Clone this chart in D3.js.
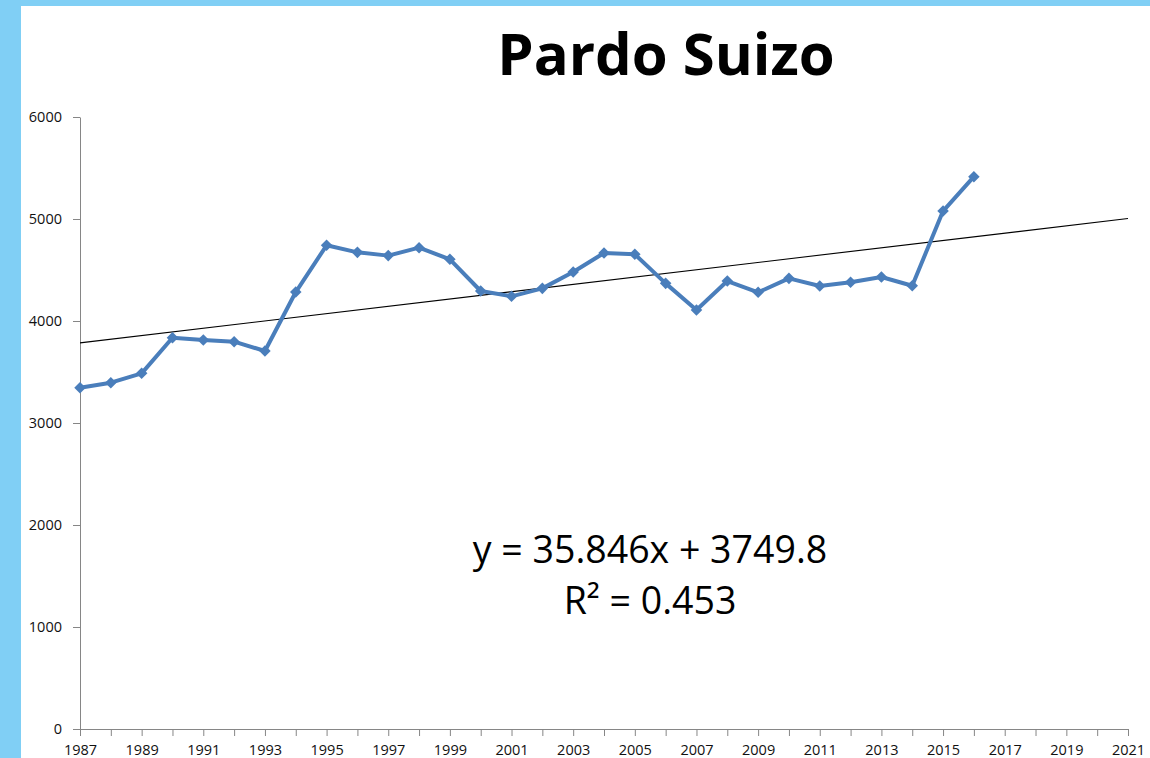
<!DOCTYPE html>
<html>
<head>
<meta charset="utf-8">
<script src="https://cdn.jsdelivr.net/npm/d3@7"></script>
<style>
  body { margin: 0; background: #fff; }
  svg { display: block; }
</style>
</head>
<body>
<svg id="chart" width="1150" height="758"></svg>
<script>
// data
const years = [1987, 1988, 1989, 1990, 1991, 1992, 1993, 1994, 1995, 1996,
  1997, 1998, 1999, 2000, 2001, 2002, 2003, 2004, 2005, 2006,
  2007, 2008, 2009, 2010, 2011, 2012, 2013, 2014, 2015, 2016];
const values = [3345, 3395, 3487, 3836, 3814, 3797, 3706, 4284, 4742, 4673,
  4641, 4719, 4605, 4294, 4242, 4320, 4480, 4667, 4654, 4369,
  4108, 4392, 4281, 4418, 4343, 4379, 4431, 4346, 5078, 5415];
const yTicks = [0, 1000, 2000, 3000, 4000, 5000, 6000];
const xRange = [1987, 2021];
const trendSlope = 35.846;
const trendIntercept = 3749.8;
const eqLines = ["y = 35.846x + 3749.8", "R² = 0.453"];
const title = "Pardo Suizo";

const svg = d3.select("#chart");

// light blue frame strips
svg.append("rect").attr("x", 0).attr("y", 0).attr("width", 1150).attr("height", 6).attr("fill", "#80cff5");
svg.append("rect").attr("x", 0).attr("y", 0).attr("width", 21).attr("height", 758).attr("fill", "#80cff5");

const x = d3.scaleLinear().domain(xRange).range([80, 1128]);
const y = d3.scaleLinear().domain([0, 6000]).range([729, 117]);

const font = "'Open Sans', 'DejaVu Sans', sans-serif";

// y axis
const yAxis = svg.append("g")
  .attr("transform", "translate(80,0)")
  .call(d3.axisLeft(y).tickValues(yTicks).tickSize(7).tickSizeOuter(0).tickPadding(11).tickFormat(d3.format("d")));
yAxis.select(".domain").attr("stroke", "#868686");
yAxis.selectAll(".tick line").attr("stroke", "#868686");
yAxis.selectAll("text").attr("font-family", font).attr("font-size", 14.5).attr("fill", "#111");

// x axis, tick every year, label every other year
const allYears = d3.range(xRange[0], xRange[1] + 1);
const xAxis = svg.append("g")
  .attr("transform", "translate(0,729)")
  .call(d3.axisBottom(x).tickValues(allYears).tickSize(7).tickSizeOuter(0).tickPadding(9)
    .tickFormat(function(d) { return (d - xRange[0]) % 2 === 0 ? String(d) : ""; }));
xAxis.select(".domain").attr("stroke", "#868686");
xAxis.selectAll(".tick line").attr("stroke", "#868686");
xAxis.selectAll("text").attr("font-family", font).attr("font-size", 14.5).attr("fill", "#111");

// linear trend line (x = 1 for first year)
const trendPts = xRange.map(function(yr) {
  return {x: yr, y: trendSlope * (yr - xRange[0] + 1) + trendIntercept};
});
svg.append("line")
  .attr("x1", x(trendPts[0].x)).attr("y1", y(trendPts[0].y))
  .attr("x2", x(trendPts[1].x)).attr("y2", y(trendPts[1].y))
  .attr("stroke", "#000").attr("stroke-width", 1.1);

// series line
const pts = years.map(function(d, i) { return {yr: d, v: values[i]}; });
const line = d3.line()
  .x(function(d) { return x(d.yr); })
  .y(function(d) { return y(d.v); });

svg.append("path")
  .datum(pts)
  .attr("d", line)
  .attr("fill", "none")
  .attr("stroke", "#4a7ebb")
  .attr("stroke-width", 4)
  .attr("stroke-linejoin", "round");

svg.append("g").selectAll("path")
  .data(pts)
  .join("path")
  .attr("d", d3.symbol().type(d3.symbolDiamond2).size(85))
  .attr("transform", function(d) { return "translate(" + x(d.yr) + "," + y(d.v) + ")"; })
  .attr("fill", "#4a7ebb");

// title
svg.append("text")
  .attr("x", 666).attr("y", 75)
  .attr("text-anchor", "middle")
  .attr("font-family", font)
  .attr("font-weight", "bold")
  .attr("font-size", 58)
  .attr("fill", "#000")
  .text(title);

// equation
svg.append("g").selectAll("text")
  .data(eqLines)
  .join("text")
  .attr("x", 650)
  .attr("y", function(d, i) { return 563 + i * 51; })
  .attr("text-anchor", "middle")
  .attr("font-family", font)
  .attr("font-size", 37.5)
  .attr("fill", "#000")
  .text(function(d) { return d; });
</script>
</body>
</html>
